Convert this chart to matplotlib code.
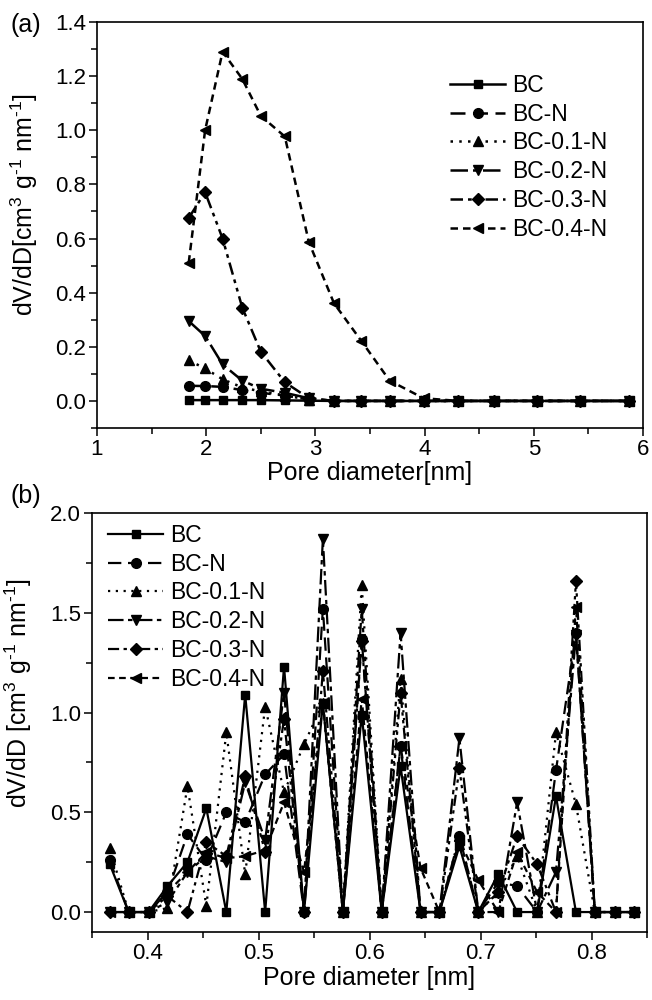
import numpy as np
import matplotlib.pyplot as plt
from matplotlib.ticker import MultipleLocator

plt.rcParams['font.family'] = ['Liberation Sans', 'DejaVu Sans']
plt.rcParams['mathtext.fontset'] = 'custom'
plt.rcParams['mathtext.rm'] = 'Liberation Sans'

labels = ['BC', 'BC-N', 'BC-0.1-N', 'BC-0.2-N', 'BC-0.3-N', 'BC-0.4-N']
markers = ['s', 'o', '^', 'v', 'D', '<']
styles = ['-', (0, (6, 3)), (0, (1, 2.5)), (0, (7, 2, 2, 2)),
          (0, (5, 2, 1.5, 2, 1.5, 2)), (0, (3, 2))]
msizes = [6, 7, 7, 7, 6, 7]

# (a) mesopore range
d_meso = [1.84, 1.99, 2.15, 2.33, 2.50, 2.72, 2.94, 3.17, 3.42, 3.68,
          3.99, 4.31, 4.64, 5.03, 5.42, 5.87]
bc_meso = [0.003, 0.003, 0.003, 0.003, 0.003, 0.002, 0.001, 0, 0, 0,
           0, 0, 0, 0, 0, 0]
bcn_meso = [0.056, 0.055, 0.052, 0.040, 0.030, 0.020, 0.005, 0, 0, 0,
            0, 0, 0, 0, 0, 0]
bc01_meso = [0.150, 0.120, 0.080, 0.050, 0.035, 0.020, 0.005, 0, 0, 0,
             0, 0, 0, 0, 0, 0]
bc02_meso = [0.295, 0.240, 0.135, 0.075, 0.045, 0.030, 0.010, 0, 0, 0,
             0, 0, 0, 0, 0, 0]
bc03_meso = [0.676, 0.771, 0.600, 0.345, 0.182, 0.069, 0.010, 0, 0, 0,
             0, 0, 0, 0, 0, 0]
bc04_meso = [0.511, 1.000, 1.290, 1.190, 1.053, 0.977, 0.587, 0.361, 0.222, 0.075,
             0.010, 0, 0, 0, 0, 0]

# (b) micropore range
d_micro = [0.366, 0.383, 0.401, 0.418, 0.436, 0.453, 0.471, 0.488, 0.506, 0.523,
           0.541, 0.558, 0.576, 0.593, 0.611, 0.628, 0.646, 0.663, 0.681, 0.698,
           0.716, 0.733, 0.751, 0.768, 0.786, 0.803, 0.821, 0.838]
bc_micro = [0.24, 0, 0, 0.13, 0.25, 0.52, 0, 1.09, 0, 1.23,
            0, 1.05, 0, 0.99, 0, 0.73, 0, 0, 0.33, 0,
            0.19, 0, 0, 0.58, 0, 0, 0, 0]
bcn_micro = [0.26, 0, 0, 0.10, 0.39, 0.26, 0.50, 0.45, 0.69, 0.79,
             0, 1.52, 0, 1.37, 0, 0.83, 0, 0, 0.38, 0,
             0.15, 0.13, 0, 0.71, 1.40, 0, 0, 0]
bc01_micro = [0.32, 0, 0, 0.02, 0.63, 0.03, 0.90, 0.19, 1.03, 0.60,
              0.84, 1.05, 0, 1.64, 0, 1.17, 0, 0, 0.38, 0,
              0.10, 0.28, 0, 0.90, 0.54, 0, 0, 0]
bc02_micro = [0, 0, 0, 0.05, 0.20, 0.28, 0.25, 0.65, 0.36, 1.10,
              0, 1.87, 0, 1.52, 0, 1.40, 0, 0, 0.87, 0,
              0, 0.55, 0, 0.20, 1.39, 0, 0, 0]
bc03_micro = [0, 0, 0, 0.08, 0, 0.35, 0.28, 0.68, 0.30, 0.97,
              0, 1.21, 0, 1.36, 0, 1.10, 0, 0, 0.72, 0,
              0.10, 0.38, 0.24, 0, 1.66, 0, 0, 0]
bc04_micro = [0, 0, 0, 0.10, 0.20, 0.30, 0.27, 0.28, 0.31, 0.55,
              0.20, 1.05, 0, 1.07, 0, 0.83, 0.22, 0, 0.36, 0.16,
              0, 0.30, 0.10, 0, 1.53, 0, 0, 0]

meso = [bc_meso, bcn_meso, bc01_meso, bc02_meso, bc03_meso, bc04_meso]
micro = [bc_micro, bcn_micro, bc01_micro, bc02_micro, bc03_micro, bc04_micro]

fig = plt.figure(figsize=(6.52, 10), dpi=100)
ax1 = fig.add_axes([97 / 652, 1 - 428 / 1000, 546 / 652, 406 / 1000])
ax2 = fig.add_axes([92 / 652, 1 - 932 / 1000, 555 / 652, 419 / 1000])

for ys, lab, mk, ls, ms in zip(meso, labels, markers, styles, msizes):
    ax1.plot(d_meso, ys, color='black', ls=ls, lw=1.8, marker=mk, ms=ms, label=lab)
for ys, lab, mk, ls, ms in zip(micro, labels, markers, styles, msizes):
    ax2.plot(d_micro, ys, color='black', ls=ls, lw=1.6, marker=mk, ms=ms, label=lab)

unit = '[cm$^3$ g$^{\\text{-1}}$ nm$^{\\text{-1}}$]'

ax1.set_xlim(1, 6)
ax1.set_ylim(-0.1, 1.4)
ax1.xaxis.set_major_locator(MultipleLocator(1))
ax1.xaxis.set_minor_locator(MultipleLocator(0.5))
ax1.set_yticks(np.arange(0, 1.41, 0.2))
ax1.yaxis.set_minor_locator(MultipleLocator(0.1))
ax1.set_xlabel('Pore diameter[nm]', fontsize=18, labelpad=1)
ax1.set_ylabel('dV/dD' + unit, fontsize=18)
ax1.yaxis.set_label_coords(-0.105, 0.55)

ax2.set_xlim(0.35, 0.85)
ax2.set_ylim(-0.1, 2.0)
ax2.xaxis.set_major_locator(MultipleLocator(0.1))
ax2.xaxis.set_minor_locator(MultipleLocator(0.05))
ax2.set_yticks(np.arange(0, 2.01, 0.5))
ax2.yaxis.set_minor_locator(MultipleLocator(0.25))
ax2.set_xlabel('Pore diameter [nm]', fontsize=18, labelpad=1)
ax2.set_ylabel('dV/dD ' + unit, fontsize=18)
ax2.yaxis.set_label_coords(-0.105, 0.57)

for ax in (ax1, ax2):
    ax.tick_params(which='both', direction='out', top=False, right=False,
                   labelsize=16, width=1.1, pad=2)
    ax.tick_params(which='major', length=6)
    ax.tick_params(which='minor', length=4)
    for sp in ax.spines.values():
        sp.set_linewidth(1.2)

ax1.legend(loc='upper left', bbox_to_anchor=(450 / 652, 1 - 74 / 1000),
           bbox_transform=fig.transFigure, frameon=False, fontsize=16.5,
           handlelength=2.4, handletextpad=0.3, labelspacing=0.25,
           borderpad=0, borderaxespad=0)
ax2.legend(loc='upper left', bbox_to_anchor=(108 / 652, 1 - 524 / 1000),
           bbox_transform=fig.transFigure, frameon=False, fontsize=16.5,
           handlelength=2.4, handletextpad=0.3, labelspacing=0.25,
           borderpad=0, borderaxespad=0)

fig.text(10 / 652, 1 - 25 / 1000, '(a)', fontsize=18, va='center', ha='left')
fig.text(10 / 652, 1 - 496 / 1000, '(b)', fontsize=18, va='center', ha='left')

fig.savefig('out.png', dpi=100)
